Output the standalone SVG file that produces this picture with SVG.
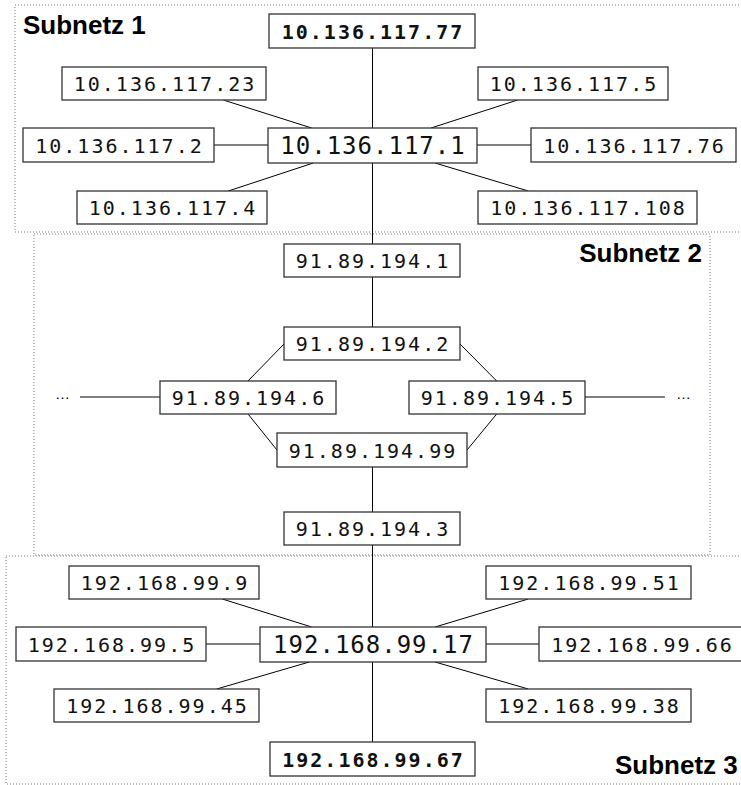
<svg xmlns="http://www.w3.org/2000/svg" width="741" height="785" viewBox="0 0 741 785">
<style>
.region{fill:none;stroke:#777;stroke-width:1;stroke-dasharray:1 2}
.box{fill:#fff;stroke:#333;stroke-width:1.3}
.ip{font-family:"DejaVu Sans Mono","Liberation Mono",monospace;font-size:20px;letter-spacing:2px;fill:#111;text-anchor:middle}
.ipc{font-size:24px;letter-spacing:1px}
.ipb{font-weight:bold}
.lbl{font-family:"Liberation Sans",Arial,sans-serif;font-weight:bold;font-size:26px;fill:#000}
.dots{font-family:"Liberation Sans",Arial,sans-serif;font-size:15px;fill:#000}
.con line{stroke:#000;stroke-width:1}
</style>
<rect fill="#fff" x="0" y="0" width="741" height="785"/>
<g id="regions">
<rect class="region" x="15" y="5" width="760" height="227"/>
<rect class="region" x="34" y="234" width="676" height="321"/>
<rect class="region" x="6" y="556" width="760" height="228"/>
<text class="lbl" x="23" y="34">Subnetz 1</text>
<text class="lbl" x="702" y="262" text-anchor="end">Subnetz 2</text>
<text class="lbl" x="615" y="774">Subnetz 3</text>
</g>
<g id="connectors" class="con">
<line x1="372.5" y1="48" x2="372.5" y2="128"/>
<line x1="372.5" y1="163" x2="372.5" y2="244"/>
<line x1="223.3" y1="100" x2="311.7" y2="128"/>
<line x1="214" y1="145" x2="268" y2="145"/>
<line x1="228.3" y1="191" x2="313.3" y2="163"/>
<line x1="517.7" y1="100" x2="431" y2="128"/>
<line x1="477" y1="145" x2="531" y2="145"/>
<line x1="435" y1="163" x2="528.3" y2="191"/>
<line x1="372.5" y1="277" x2="372.5" y2="327"/>
<line x1="372.5" y1="467" x2="372.5" y2="512"/>
<line x1="372.5" y1="545" x2="372.5" y2="627"/>
<line x1="284" y1="344" x2="248" y2="381"/>
<line x1="248" y1="414" x2="277" y2="450"/>
<line x1="460" y1="344" x2="496.7" y2="381"/>
<line x1="496.7" y1="414" x2="467" y2="450"/>
<line x1="80" y1="397" x2="160" y2="397"/>
<line x1="585" y1="397" x2="665" y2="397"/>
<line x1="222.3" y1="599" x2="311.7" y2="627"/>
<line x1="206" y1="644" x2="260" y2="644"/>
<line x1="216.7" y1="689" x2="309.3" y2="662"/>
<line x1="528.3" y1="599" x2="435" y2="627"/>
<line x1="486" y1="644" x2="539" y2="644"/>
<line x1="435" y1="662" x2="528.3" y2="689"/>
<line x1="372.5" y1="662" x2="372.5" y2="742"/>
</g>
<text class="dots" x="55" y="399">…</text>
<text class="dots" x="676" y="399">…</text>
<g id="n-10-136-117-77"><rect class="box" x="269" y="14" width="206" height="34"/><text class="ip ipb" x="373" y="38.5">10.136.117.77</text></g>
<g id="n-10-136-117-23"><rect class="box" x="62" y="67" width="204" height="33"/><text class="ip" x="165" y="91">10.136.117.23</text></g>
<g id="n-10-136-117-5"><rect class="box" x="478" y="67" width="190" height="33"/><text class="ip" x="574" y="91">10.136.117.5</text></g>
<g id="n-10-136-117-2"><rect class="box" x="23" y="128" width="191" height="34"/><text class="ip" x="119.5" y="152.5">10.136.117.2</text></g>
<g id="n-10-136-117-1"><rect class="box" x="268" y="128" width="209" height="35"/><text class="ip ipc" x="373" y="154.3">10.136.117.1</text></g>
<g id="n-10-136-117-76"><rect class="box" x="531" y="128" width="205" height="34"/><text class="ip" x="634.5" y="152.5">10.136.117.76</text></g>
<g id="n-10-136-117-4"><rect class="box" x="77" y="191" width="190" height="33"/><text class="ip" x="173" y="215">10.136.117.4</text></g>
<g id="n-10-136-117-108"><rect class="box" x="478" y="191" width="219" height="33"/><text class="ip" x="588.5" y="215">10.136.117.108</text></g>
<g id="n-91-89-194-1"><rect class="box" x="284" y="244" width="176" height="33"/><text class="ip" x="373" y="268">91.89.194.1</text></g>
<g id="n-91-89-194-2"><rect class="box" x="284" y="327" width="176" height="33"/><text class="ip" x="373" y="351">91.89.194.2</text></g>
<g id="n-91-89-194-6"><rect class="box" x="160" y="381" width="176" height="33"/><text class="ip" x="249" y="405">91.89.194.6</text></g>
<g id="n-91-89-194-5"><rect class="box" x="409" y="381" width="176" height="33"/><text class="ip" x="498" y="405">91.89.194.5</text></g>
<g id="n-91-89-194-99"><rect class="box" x="277" y="433" width="190" height="34"/><text class="ip" x="373" y="457.5">91.89.194.99</text></g>
<g id="n-91-89-194-3"><rect class="box" x="284" y="512" width="176" height="33"/><text class="ip" x="373" y="536">91.89.194.3</text></g>
<g id="n-192-168-99-9"><rect class="box" x="69" y="566" width="190" height="33"/><text class="ip" x="165" y="590">192.168.99.9</text></g>
<g id="n-192-168-99-51"><rect class="box" x="486" y="566" width="205" height="33"/><text class="ip" x="589.5" y="590">192.168.99.51</text></g>
<g id="n-192-168-99-5"><rect class="box" x="16" y="627" width="190" height="34"/><text class="ip" x="112" y="651.5">192.168.99.5</text></g>
<g id="n-192-168-99-17"><rect class="box" x="260" y="627" width="226" height="35"/><text class="ip ipc" x="373.5" y="653.3">192.168.99.17</text></g>
<g id="n-192-168-99-66"><rect class="box" x="539" y="627" width="205" height="34"/><text class="ip" x="642.5" y="651.5">192.168.99.66</text></g>
<g id="n-192-168-99-45"><rect class="box" x="54" y="689" width="205" height="33"/><text class="ip" x="157.5" y="713">192.168.99.45</text></g>
<g id="n-192-168-99-38"><rect class="box" x="486" y="689" width="205" height="33"/><text class="ip" x="589.5" y="713">192.168.99.38</text></g>
<g id="n-192-168-99-67"><rect class="box" x="270" y="742" width="205" height="34"/><text class="ip ipb" x="373.5" y="766.5">192.168.99.67</text></g>
</svg>
